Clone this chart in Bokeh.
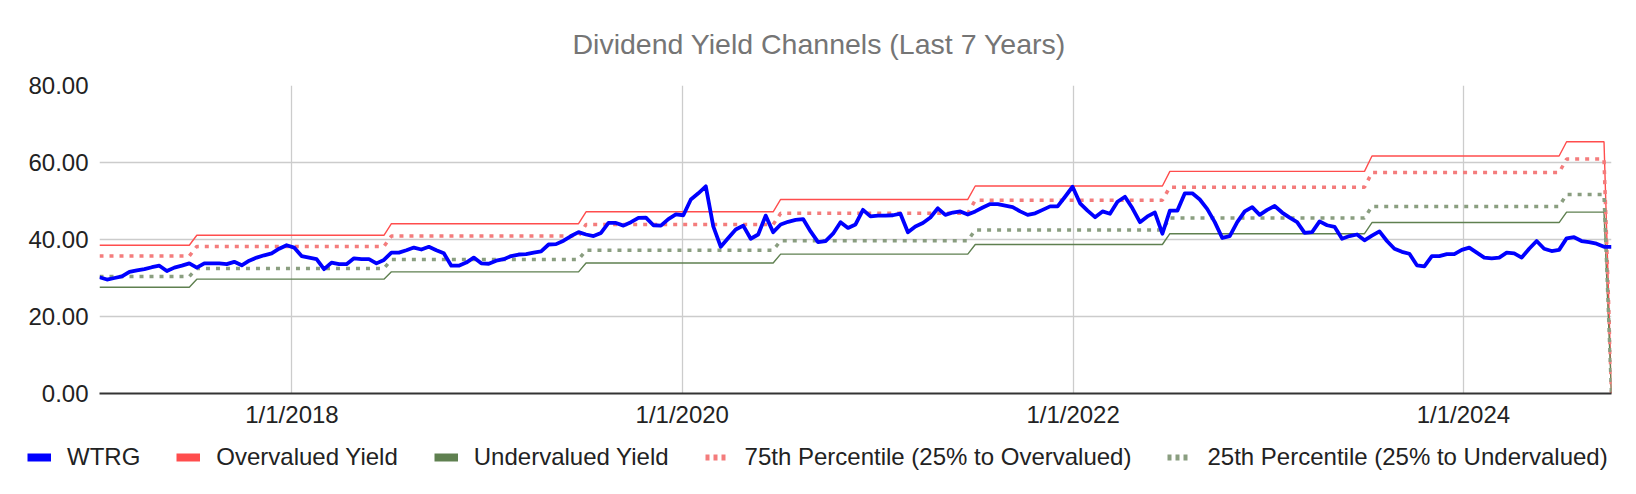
import numpy as np
import pandas as pd
from bokeh.plotting import figure
from bokeh.layouts import column
from bokeh.models import Range1d, FixedTicker, NumeralTickFormatter, Legend, LegendItem
from bokeh.embed import file_html
from bokeh.resources import INLINE

# ---------------- data ----------------
title_text = "Dividend Yield Channels (Last 7 Years)"
start_date = "2017-01-06"      # biweekly observations
n_points = 203

wtrg = [
    30.2, 29.6, 30.0, 30.4, 31.6, 32.0, 32.3, 32.8, 33.2, 31.8, 32.7, 33.2, 33.8, 32.7, 33.8, 33.8,
    33.8, 33.6, 34.2, 33.3, 34.5, 35.3, 35.9, 36.4, 37.6, 38.5, 37.9,
    35.7, 35.3, 34.9, 32.3, 34.0, 33.6, 33.6, 35.1, 34.9, 34.9, 33.8, 34.7, 36.6, 36.6, 37.2, 37.9,
    37.4, 38.1, 37.2, 36.4, 33.2, 33.2, 34.0, 35.3, 33.8, 33.7,
    34.5, 34.9, 35.7, 36.1, 36.2, 36.6, 36.9, 38.7, 38.8, 39.7, 40.9, 41.9, 41.3, 40.9, 41.7, 44.3,
    44.3, 43.6, 44.5, 45.6, 45.7, 43.7, 43.6, 45.3, 46.5, 46.3, 50.4, 52.0, 53.8, 43.4, 38.1, 40.4,
    42.6, 43.6, 40.2, 41.3, 46.2, 41.9,
    43.9, 44.6, 45.1, 45.3, 42.1, 39.3, 39.6, 41.5, 44.5, 43.0, 43.9, 47.7, 46.0, 46.2, 46.2, 46.3,
    46.7, 41.9, 43.4, 44.3, 45.7, 48.1, 46.4, 47.0, 47.3, 46.5, 47.3, 48.3, 49.2, 49.2, 48.8, 48.4,
    47.3, 46.4, 46.8, 47.7, 48.6, 48.6,
    51.1, 53.7, 49.4, 47.5, 45.8, 47.3, 46.7, 49.8, 51.1, 48.1, 44.5, 46.0, 47.0, 41.5, 47.5, 47.5,
    52.0, 52.0, 50.4, 47.9, 44.5, 40.4, 40.9, 44.5, 47.3, 48.4, 46.4, 47.7, 48.7, 47.0, 45.7, 44.5,
    41.7, 41.9, 44.7, 43.7, 43.3, 40.2,
    40.9, 41.3, 39.8, 41.0, 42.1, 39.6, 37.6, 36.8, 36.3, 33.3, 33.0, 35.7, 35.7, 36.2, 36.2, 37.3,
    37.9, 36.6, 35.3, 35.1, 35.3, 36.6, 36.4, 35.3, 37.6, 39.6, 37.6, 37.0, 37.3, 40.3, 40.6, 39.6,
    39.3, 38.9, 38.1, 38.1,
]

# yield channel levels, each valid from its start date
band_starts = ["2017-01-01", "2017-07-01", "2018-07-01", "2019-07-01", "2020-07-01",
               "2021-07-01", "2022-07-01", "2023-07-01", "2024-07-01", "2024-10-01"]
overvalued = [38.5, 41.1, 44.1, 47.2, 50.4, 53.9, 57.7, 61.7, 65.4, 0.0]
pct75 = [35.7, 38.2, 40.9, 43.9, 46.8, 50.2, 53.6, 57.4, 60.9, 0.0]
pct25 = [30.4, 32.5, 34.8, 37.2, 39.7, 42.5, 45.6, 48.6, 51.7, 0.0]
undervalued = [27.6, 29.7, 31.6, 33.9, 36.2, 38.7, 41.5, 44.4, 47.1, 0.0]

y_ticks = [0, 20, 40, 60, 80]
x_tick_dates = ["2018-01-01", "2020-01-01", "2022-01-01", "2024-01-01"]
x_tick_labels = ["1/1/2018", "1/1/2020", "1/1/2022", "1/1/2024"]

series_names = ["WTRG", "Overvalued Yield", "Undervalued Yield",
                "75th Percentile (25% to Overvalued)", "25th Percentile (25% to Undervalued)"]

# ---------------- derived ----------------
epoch = pd.Timestamp("1970-01-01")
dates = pd.date_range(start_date, periods=n_points, freq="14D")
x = ((dates - epoch) / pd.Timedelta(milliseconds=1)).to_numpy(dtype=float)
idx = np.searchsorted(pd.to_datetime(band_starts).values, dates.values, side="right") - 1
over_s = np.array(overvalued)[idx]
p75_s = np.array(pct75)[idx]
p25_s = np.array(pct25)[idx]
under_s = np.array(undervalued)[idx]
x_ticks = [int((pd.Timestamp(d) - epoch) / pd.Timedelta(milliseconds=1)) for d in x_tick_dates]

FONT = "Liberation Sans"
BLUE = "#0000ff"
RED = "#ff4d4d"
GREEN = "#5f8050"
RED_DOT = "#f47c7c"
GREEN_DOT = "#8a9e80"

p = figure(width=1636, height=434, output_backend="svg", toolbar_location=None,
           x_range=Range1d(x[0], x[-1]), y_range=Range1d(0, 80),
           min_border_left=99, min_border_right=25, min_border_top=81, min_border_bottom=41,
           title=title_text)
p.outline_line_color = None
p.background_fill_color = "white"
p.border_fill_color = "white"

p.title.text_font = FONT
p.title.text_font_size = "28.5px"
p.title.text_font_style = "normal"
p.title.text_color = "#757575"
p.title.align = "left"
p.title.offset = 473
p.title.standoff = 51

xa = p.xaxis[0]
xa.ticker = FixedTicker(ticks=x_ticks)
xa.major_label_overrides = {t: lab for t, lab in zip(x_ticks, x_tick_labels)}
xa.axis_line_color = "#333333"
xa.axis_line_width = 2
xa.major_tick_line_color = None
xa.minor_tick_line_color = None
xa.major_label_text_font = FONT
xa.major_label_text_font_size = "24px"
xa.major_label_text_color = "#222222"
xa.major_label_standoff = 1

ya = p.yaxis[0]
ya.ticker = FixedTicker(ticks=y_ticks)
ya.formatter = NumeralTickFormatter(format="0.00")
ya.axis_line_color = None
ya.major_tick_line_color = None
ya.minor_tick_line_color = None
ya.major_label_text_font = FONT
ya.major_label_text_font_size = "24px"
ya.major_label_text_color = "#222222"
ya.major_label_standoff = 5

p.xgrid.grid_line_color = "#cccccc"
p.ygrid.grid_line_color = "#cccccc"
p.xgrid.grid_line_width = 1.3
p.ygrid.grid_line_width = 1.3

p.line(x, over_s, line_color=RED, line_width=1.4)
p.line(x, under_s, line_color=GREEN, line_width=1.4)
p.line(x, p75_s, line_color=RED_DOT, line_width=3.5, line_dash="4 6")
p.line(x, p25_s, line_color=GREEN_DOT, line_width=3.5, line_dash="4 6")
p.line(x, wtrg, line_color=BLUE, line_width=3.8, line_join="round")

# ---------------- legend strip below the chart ----------------
lf = figure(width=1636, height=60, output_backend="svg", toolbar_location=None,
            x_axis_location=None, y_axis_location=None, min_border=0,
            x_range=Range1d(0, 1), y_range=Range1d(0, 1))
lf.grid.visible = False
lf.outline_line_color = None
lf.background_fill_color = "white"
lf.border_fill_color = "white"

if "frame_align" in lf.properties():
    lf.frame_align = False
    leg_x, leg_font, leg_spacing = 27, "24px", 36
else:
    leg_x, leg_font, leg_spacing = 0, "23px", 30

leg_styles = [(BLUE, 8, "solid"), (RED, 8, "solid"), (GREEN, 8, "solid"),
              (RED_DOT, 6, "4 4"), (GREEN_DOT, 6, "4 4")]
items = []
for name, (c, w, d) in zip(series_names, leg_styles):
    # swatch-only renderers: their points lie outside the strip's visible range
    r = lf.line([-2, -1], [-2, -2], line_color=c, line_width=w, line_dash=d)
    items.append(LegendItem(label=name, renderers=[r]))

legend = Legend(items=items, orientation="horizontal", location=(leg_x, 23),
                label_text_font=FONT, label_text_font_size=leg_font, label_text_color="#222222",
                glyph_width=24, glyph_height=28, label_standoff=16, spacing=leg_spacing,
                padding=0, margin=0, border_line_color=None, background_fill_alpha=0)
lf.add_layout(legend, "center")

layout = column(p, lf, spacing=0)
open("out.html", "w").write(file_html(layout, INLINE))
